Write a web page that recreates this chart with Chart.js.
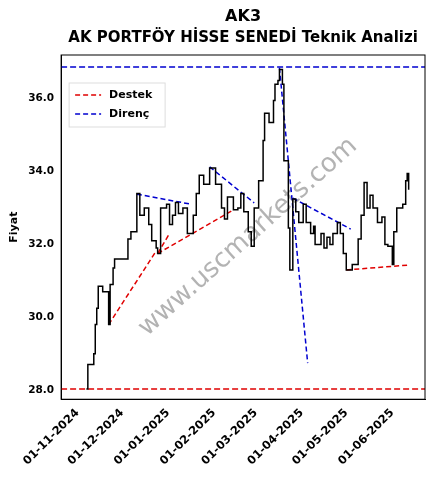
<!DOCTYPE html>
<html>
<head>
<meta charset="utf-8">
<script src="https://cdn.jsdelivr.net/npm/chart.js@4.4.1/dist/chart.umd.min.js"></script>
<style>
  html, body { margin: 0; padding: 0; background: #fff; }
  #wrap { width: 433px; height: 489px; }
</style>
</head>
<body>
<div id="wrap"><canvas id="chart"></canvas></div>
<script>
// days since 01-11-2024
const START = new Date(2024, 10, 1);
const priceDays = [6,7,11,12,13,14,17,20,21,22,24,25,33,34,36,40,42,45,48,50,53,54,56,60,62,64,66,68,71,74,78,80,82,85,89,93,97,99,101,105,108,110,112,115,117,119,122,125,126,129,132,133,135,136,138,139,142,143,145,147,149,152,154,157,159,160,164,166,168,170,172,175,177,179,181,185,189,191,193,195,197,199,202,205,207,209,212,213,215,219,221,222,223];
const priceValues = [28.03,28.7,29.0,29.8,30.25,30.85,30.7,30.7,29.8,30.9,31.35,31.6,31.6,32.15,32.35,33.4,32.8,33.0,32.55,32.1,31.9,31.75,33.0,33.1,32.55,32.8,33.15,32.85,33.0,32.3,32.8,33.4,33.9,33.65,34.1,33.65,33.0,32.7,33.3,32.95,33.0,33.4,32.9,32.35,31.95,33.0,33.75,34.85,35.6,35.35,35.95,36.4,36.5,36.8,36.4,34.3,32.45,31.3,33.25,32.9,32.6,33.1,32.6,32.3,32.5,32.0,32.3,31.9,32.2,32.0,32.3,32.6,32.3,31.75,31.3,31.45,32.15,32.8,33.7,33.0,33.35,33.0,32.6,32.75,32.0,31.95,31.45,32.35,33.0,33.1,33.75,33.95,33.5];

const supportLevel = 28.03;
const resistLevel = 36.87;
// trend segments: [day1, value1, day2, value2]
const supportSegs = [[21,29.8,53,31.82],[54,31.75,62,32.3],[54,31.75,105,32.95],[181,31.3,222,31.43]];
const resistSegs = [[40,33.38,77,33.1],[89,34.13,119,33.14],[136,36.85,155,28.74],[145,33.27,184,32.42]];

const xTicks = [0,30,61,92,120,151,181,212];
const yTicks = [28,30,32,34,36];
const X_MIN = -11, X_MAX = 234;

const fmtDate = d => {
  const t = new Date(START.getTime() + d * 86400000);
  const p = n => String(n).padStart(2, '0');
  return p(t.getDate()) + '-' + p(t.getMonth() + 1) + '-' + t.getFullYear();
};

const segDs = (s, color) => ({
  data: [{x: s[0], y: s[1]}, {x: s[2], y: s[3]}],
  borderColor: color, borderDash: [5, 3], borderWidth: 1.5, pointRadius: 0, fill: false
});

const datasets = [
  { label: 'Fiyat', data: priceDays.map((d, i) => ({x: d, y: priceValues[i]})),
    borderColor: '#000', borderWidth: 1.5, pointRadius: 0, stepped: true, fill: false },
  { label: 'Destek', data: [{x: X_MIN, y: supportLevel}, {x: X_MAX, y: supportLevel}],
    borderColor: '#e00000', borderDash: [6, 3], borderWidth: 1.5, pointRadius: 0 },
  { label: 'Direnç', data: [{x: X_MIN, y: resistLevel}, {x: X_MAX, y: resistLevel}],
    borderColor: '#0000d0', borderDash: [6, 3], borderWidth: 1.5, pointRadius: 0 },
  ...supportSegs.map(s => segDs(s, '#e00000')),
  ...resistSegs.map(s => segDs(s, '#0000d0')),
];

const decor = {
  id: 'decor',
  beforeDatasetsDraw(chart) {
    const {ctx, chartArea: a} = chart;
    ctx.save();
    ctx.translate((a.left + a.right) / 2 + 5, (a.top + a.bottom) / 2 + 10);
    ctx.rotate(-Math.PI / 4.3);
    ctx.fillStyle = 'rgba(128,128,128,0.6)';
    ctx.font = '26px "DejaVu Sans"';
    ctx.textAlign = 'center';
    ctx.textBaseline = 'middle';
    ctx.fillText('www.uscmarkets.com', 0, 0);
    ctx.restore();
  },
  afterDraw(chart) {
    const {ctx, chartArea: a} = chart;
    ctx.save();
    ctx.strokeStyle = '#000';
    ctx.lineWidth = 1;
    ctx.strokeRect(a.left, a.top, a.right - a.left, a.bottom - a.top);
    // titles centred over the plot area
    const cx = (a.left + a.right) / 2;
    ctx.fillStyle = '#000';
    ctx.textAlign = 'center';
    ctx.textBaseline = 'middle';
    ctx.font = 'bold 16px "DejaVu Sans"';
    ctx.fillText('AK3', cx, 17);
    ctx.font = 'bold 15px "DejaVu Sans"';
    ctx.fillText('AK PORTFÖY HİSSE SENEDİ Teknik Analizi', cx, 38);
    // legend
    ctx.textAlign = 'left';
    const lx = a.left + 8, ly = a.top + 28;
    ctx.fillStyle = 'rgba(255,255,255,0.85)';
    ctx.strokeStyle = '#ddd';
    ctx.fillRect(lx, ly, 96, 44);
    ctx.strokeRect(lx, ly, 96, 44);
    ctx.font = 'bold 11px "DejaVu Sans"';
    [['Destek', '#e00000', 12], ['Direnç', '#0000d0', 31]].forEach(([t, c, dy]) => {
      ctx.strokeStyle = c;
      ctx.lineWidth = 1.5;
      ctx.setLineDash([5, 3]);
      ctx.beginPath();
      ctx.moveTo(lx + 6, ly + dy);
      ctx.lineTo(lx + 32, ly + dy);
      ctx.stroke();
      ctx.setLineDash([]);
      ctx.fillStyle = '#000';
      ctx.fillText(t, lx + 40, ly + dy);
    });
    ctx.restore();
  }
};

new Chart(document.getElementById('chart'), {
  type: 'line',
  data: { datasets },
  plugins: [decor],
  options: {
    responsive: true,
    maintainAspectRatio: false,
    animation: false,
    layout: { padding: { left: 4, right: 8, top: 55, bottom: 18 } },
    plugins: {
      legend: { display: false },
      tooltip: { enabled: false }
    },
    scales: {
      x: {
        type: 'linear', min: X_MIN, max: X_MAX,
        grid: { display: false, drawTicks: true, tickLength: 4 },
        border: { color: '#000' },
        afterBuildTicks: ax => { ax.ticks = xTicks.map(v => ({value: v})); },
        ticks: { color: '#000', maxRotation: 45, minRotation: 45, autoSkip: false,
          font: { family: 'DejaVu Sans', size: 11.5, weight: 'bold' },
          callback: v => fmtDate(v) }
      },
      y: {
        min: 27.75, max: 37.2,
        grid: { display: false, tickLength: 4 },
        border: { color: '#000' },
        afterBuildTicks: ax => { ax.ticks = yTicks.map(v => ({value: v})); },
        title: { display: true, text: 'Fiyat', color: '#000',
          font: { family: 'DejaVu Sans', size: 11, weight: 'bold' } },
        ticks: { color: '#000', font: { family: 'DejaVu Sans', size: 10.5, weight: 'bold' },
          callback: v => v.toFixed(1) }
      }
    }
  }
});
</script>
</body>
</html>
